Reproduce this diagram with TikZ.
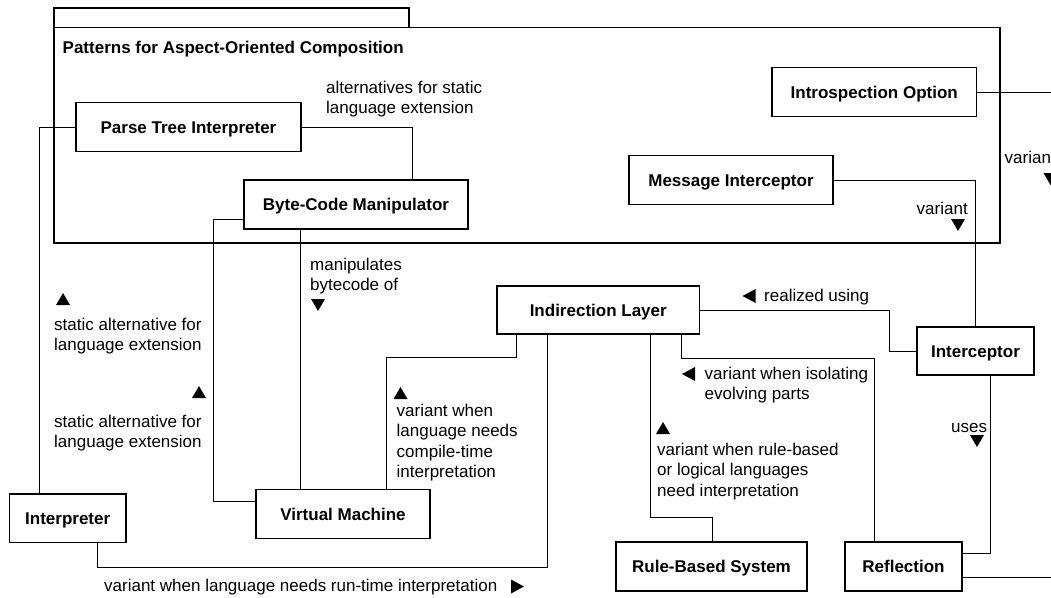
\documentclass[tikz,border=0pt]{standalone}
\usepackage{fontspec}
\setmainfont{Liberation Sans}
\begin{document}
\begin{tikzpicture}[x=1pt,y=-1pt,
  box/.style={draw, line width=1.4pt, inner sep=0pt, minimum height=49pt,
    font=\bfseries\fontsize{17}{20}\selectfont, text height=12.2pt, text depth=0pt},
  conn/.style={line width=0.9pt},
  pkg/.style={line width=1.4pt},
  lbl/.style={anchor=north west, inner sep=0pt, align=left, yshift=14.35pt,
    font=\fontsize{17}{20.5}\selectfont},
  uptri/.pic={\fill (-7,6) -- (7,6) -- (0,-6) -- cycle;},
  downtri/.pic={\fill (-7,-6) -- (7,-6) -- (0,6) -- cycle;},
  lefttri/.pic={\fill (7,-7) -- (7,7) -- (-6,0) -- cycle;},
  righttri/.pic={\fill (-6,-7) -- (-6,7) -- (7,0) -- cycle;}
]
\useasboundingbox (0,0) rectangle (1051,597);
\clip (0,0) rectangle (1051,597);

% package frame
\draw[pkg] (54,8) rectangle (409,27.5);
\draw[pkg] (54,27.5) rectangle (1000,243);
\node[lbl] (title) at (62.5,53) {\bfseries\strut Patterns for Aspect-Oriented Composition};

% boxes
\node[box, minimum width=225pt, minimum height=48.5pt] (pti) at (188.5,127) {Parse Tree Interpreter};
\node[box, minimum width=224pt] (bcm) at (356,204.5) {Byte-Code Manipulator};
\node[box, minimum width=204.5pt] (io) at (874.25,92) {Introspection Option};
\node[box, minimum width=204pt] (mi) at (731,180) {Message Interceptor};
\node[box, minimum width=202.5pt, minimum height=48pt] (il) at (598.25,310) {Indirection Layer};
\node[box, minimum width=117pt, minimum height=48pt] (icp) at (975.5,351) {Interceptor};
\node[box, minimum width=116.7pt, minimum height=48.7pt] (interp) at (67.7,518.4) {Interpreter};
\node[box, minimum width=174pt] (vm) at (343,514) {Virtual Machine};
\node[box, minimum width=191pt] (rbs) at (711.5,566.5) {Rule-Based System};
\node[box, minimum width=117pt] (refl) at (903.5,566.5) {Reflection};

% connectors
\coordinate (bcmS) at ([xshift=-56pt]bcm.south);
\draw[conn] (pti.west) -| ([xshift=-28.4pt]interp.north);
\draw[conn] (pti.east) -| ([xshift=56pt]bcm.north);
\draw[conn] ([yshift=-14.5pt]bcm.west) -- ++(-29.7,0) |- ([yshift=12.3pt]vm.west);
\draw[conn] (bcmS) -- (bcmS |- vm.north);
\draw[conn] ([xshift=43.4pt]vm.north) -- ++(0,-131.5) -| ([xshift=-82pt]il.south);
\draw[conn] ([xshift=29.6pt]interp.south) -- ++(0,24) -| ([xshift=-50.5pt]il.south);
\draw[conn] ([xshift=52pt]il.south) -- ++(0,183) -| ([xshift=0.5pt]rbs.north);
\draw[conn] ([xshift=83pt]il.south) -- ++(0,24) -| ([xshift=-29.2pt]refl.north);
\draw[conn] (il.east) -- ++(188.8,0) |- (icp.west);
\draw[conn] (mi.east) -| (icp.north);
\draw[conn] (io.east) -- ++(120,0);
\draw[conn] ([xshift=15pt]icp.south) |- ([yshift=13.2pt]refl.east);
\draw[conn] ([yshift=-11.2pt]refl.east) -- ++(120,0);

% labels
\node[lbl] (l1) at (326,93) {\strut alternatives for static\\language extension};
\node[lbl] (l2) at (310,270) {\strut manipulates\\bytecode of};
\pic at (318,305) {downtri};
\pic at (63,299) {uptri};
\node[lbl] (l3) at (54,330) {\strut static alternative for\\language extension};
\pic at (199,392) {uptri};
\node[lbl] (l4) at (54,427) {\strut static alternative for\\language extension};
\pic at (400.5,393) {uptri};
\node[lbl] (l5) at (396.5,416) {\strut variant when\\language needs\\compile-time\\interpretation};
\node[lbl] (l6) at (104,591) {\strut variant when language needs run-time interpretation};
\pic at (517,586.5) {righttri};
\pic at (663,428) {uptri};
\node[lbl] (l7) at (657,455) {\strut variant when rule-based\\or logical languages\\need interpretation};
\pic at (688,374) {lefttri};
\node[lbl] (l8) at (704.5,379) {\strut variant when isolating\\evolving parts};
\pic at (748.5,296) {lefttri};
\node[lbl] (l9) at (764,301) {\strut realized using};
\node[lbl] (l10) at (951,432) {\strut uses};
\pic at (977,441) {downtri};
\node[lbl] (l11) at (916.5,214.5) {\strut variant};
\pic at (958,225) {downtri};
\node[lbl] (l12) at (1004.5,163) {\strut variant};
\pic at (1050.5,179) {downtri};
\end{tikzpicture}
\end{document}
